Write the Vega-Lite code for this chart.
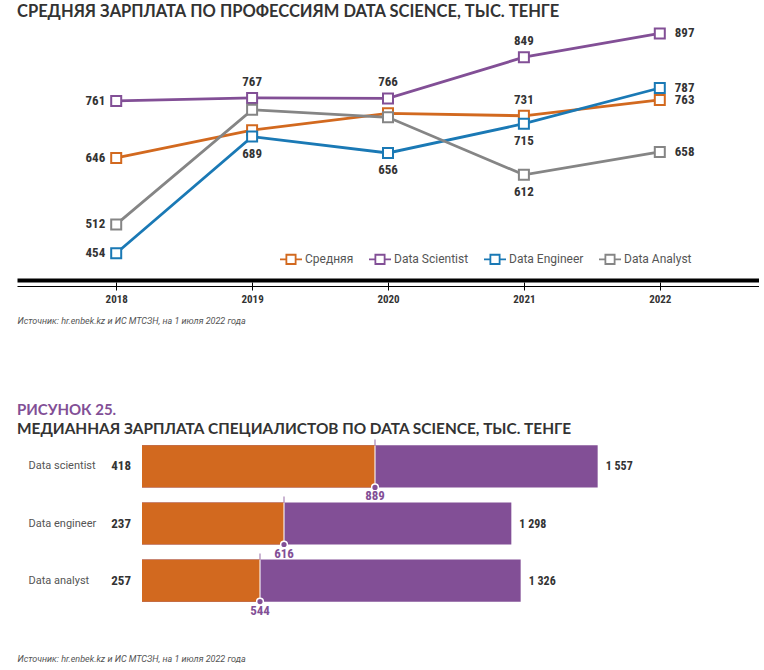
{
  "$schema": "https://vega.github.io/schema/vega-lite/v6.json",
  "padding": {"left": 17, "top": 3, "right": 0, "bottom": 0},
  "background": "white",
  "config": {
    "view": {"stroke": null},
    "locale": {"number": {"decimal": ",", "thousands": "\u00a0", "grouping": [3], "currency": ["", ""]}}
  },
  "datasets": {
    "lines": [
      {"year": 2018, "series": "Средняя", "value": 646},
      {"year": 2019, "series": "Средняя", "value": 702},
      {"year": 2020, "series": "Средняя", "value": 736},
      {"year": 2021, "series": "Средняя", "value": 731},
      {"year": 2022, "series": "Средняя", "value": 763},
      {"year": 2018, "series": "Data Scientist", "value": 761},
      {"year": 2019, "series": "Data Scientist", "value": 767},
      {"year": 2020, "series": "Data Scientist", "value": 766},
      {"year": 2021, "series": "Data Scientist", "value": 849},
      {"year": 2022, "series": "Data Scientist", "value": 897},
      {"year": 2018, "series": "Data Engineer", "value": 454},
      {"year": 2019, "series": "Data Engineer", "value": 689},
      {"year": 2020, "series": "Data Engineer", "value": 656},
      {"year": 2021, "series": "Data Engineer", "value": 715},
      {"year": 2022, "series": "Data Engineer", "value": 787},
      {"year": 2018, "series": "Data Analyst", "value": 512},
      {"year": 2019, "series": "Data Analyst", "value": 743},
      {"year": 2020, "series": "Data Analyst", "value": 728},
      {"year": 2021, "series": "Data Analyst", "value": 612},
      {"year": 2022, "series": "Data Analyst", "value": 658}
    ],
    "bars": [
      {"role": "Data scientist", "min": 418, "median": 889, "max": 1557},
      {"role": "Data engineer", "min": 237, "median": 616, "max": 1298},
      {"role": "Data analyst", "min": 257, "median": 544, "max": 1326}
    ]
  },
  "vconcat": [
    {
      "width": 742,
      "height": 258,
      "title": {
        "text": "СРЕДНЯЯ ЗАРПЛАТА ПО ПРОФЕССИЯМ DATA SCIENCE, ТЫС. ТЕНГЕ",
        "anchor": "start",
        "frame": "group",
        "font": "Lato",
        "fontSize": 16.5,
        "fontWeight": "bold",
        "color": "#333333",
        "offset": 2
      },
      "data": {"name": "lines"},
      "layer": [
        {
          "mark": {"type": "line", "strokeWidth": 2.8},
          "encoding": {
            "x": {"field": "year", "type": "ordinal", "scale": {"type": "point", "padding": 0.73},
                  "axis": {"orient": "bottom", "domainWidth": 4, "domainColor": "#000000", "ticks": false, "labels": false, "title": null, "grid": false}},
            "y": {"field": "value", "type": "quantitative", "scale": {"domain": [400, 920], "zero": false, "nice": false}, "axis": null},
            "color": {
              "field": "series", "type": "nominal",
              "scale": {"domain": ["Средняя", "Data Scientist", "Data Engineer", "Data Analyst"], "range": ["#D2691F", "#824F96", "#1A79B5", "#858585"]},
              "legend": {
                "orient": "none", "legendX": 262, "legendY": 225, "direction": "horizontal", "title": null,
                "symbolType": "M-1,0H-0.42M0.42,0H1M-0.42,-0.42H0.42V0.42H-0.42Z",
                "symbolSize": 484, "symbolStrokeWidth": 1.8, "symbolFillColor": "white",
                "labelFont": "Roboto", "labelFontSize": 12, "labelColor": "#555555",
                "columnPadding": 11, "labelOffset": 2
              }
            }
          }
        },
        {
          "mark": {"type": "point", "shape": "square", "filled": false, "fill": "white", "size": 100, "strokeWidth": 2, "opacity": 1},
          "encoding": {
            "x": {"field": "year", "type": "ordinal",
                  "axis": {"orient": "bottom", "offset": 6, "domainWidth": 1, "domainColor": "#000000", "ticks": false, "labels": false, "title": null, "grid": false}},
            "y": {"field": "value", "type": "quantitative"},
            "color": {"field": "series", "type": "nominal", "legend": null}
          }
        },
        {
          "transform": [{"filter": "datum.year == 2018"}],
          "mark": {"type": "text", "align": "right", "baseline": "middle", "dx": -11, "font": "Roboto Condensed, Noto Sans Condensed, DejaVu Sans Condensed, Liberation Sans Narrow, Roboto", "fontWeight": "bold", "fontSize": 13, "color": "#333333"},
          "encoding": {
            "x": {"field": "year", "type": "ordinal",
                  "axis": {"orient": "bottom", "offset": 2, "domain": false, "ticks": true, "tickSize": 8, "tickColor": "#000000", "tickWidth": 1,
                           "labelFont": "Roboto Condensed, Noto Sans Condensed, DejaVu Sans Condensed, Liberation Sans Narrow, Roboto", "labelFontSize": 11, "labelFontWeight": "bold", "labelColor": "#333333", "labelPadding": 3, "labelAngle": 0,
                           "title": "Источник: hr.enbek.kz и ИС МТСЗН, на 1 июля 2022 года",
                           "titleFont": "Roboto", "titleFontSize": 9, "titleFontStyle": "italic", "titleFontWeight": "normal", "titleColor": "#555555",
                           "titleAnchor": "start", "titleAlign": "left", "titlePadding": 12, "grid": false}},
            "y": {"field": "value", "type": "quantitative"},
            "text": {"field": "value", "type": "quantitative"}
          }
        },
        {
          "transform": [{"filter": "datum.year == 2022"}],
          "mark": {"type": "text", "align": "left", "baseline": "middle", "dx": 15, "font": "Roboto Condensed, Noto Sans Condensed, DejaVu Sans Condensed, Liberation Sans Narrow, Roboto", "fontWeight": "bold", "fontSize": 13, "color": "#333333"},
          "encoding": {
            "x": {"field": "year", "type": "ordinal", "axis": null},
            "y": {"field": "value", "type": "quantitative"},
            "text": {"field": "value", "type": "quantitative"}
          }
        },
        {
          "transform": [{"filter": "datum.year > 2018 && datum.year < 2022 && (datum.series == 'Data Scientist' || (datum.series == 'Средняя' && datum.year == 2021))"}],
          "mark": {"type": "text", "align": "center", "baseline": "middle", "dy": -16, "font": "Roboto Condensed, Noto Sans Condensed, DejaVu Sans Condensed, Liberation Sans Narrow, Roboto", "fontWeight": "bold", "fontSize": 13, "color": "#333333"},
          "encoding": {
            "x": {"field": "year", "type": "ordinal", "axis": null},
            "y": {"field": "value", "type": "quantitative"},
            "text": {"field": "value", "type": "quantitative"}
          }
        },
        {
          "transform": [{"filter": "datum.year > 2018 && datum.year < 2022 && (datum.series == 'Data Engineer' || (datum.series == 'Data Analyst' && datum.year == 2021))"}],
          "mark": {"type": "text", "align": "center", "baseline": "middle", "dy": 17, "font": "Roboto Condensed, Noto Sans Condensed, DejaVu Sans Condensed, Liberation Sans Narrow, Roboto", "fontWeight": "bold", "fontSize": 13, "color": "#333333"},
          "encoding": {
            "x": {"field": "year", "type": "ordinal", "axis": null},
            "y": {"field": "value", "type": "quantitative"},
            "text": {"field": "value", "type": "quantitative"}
          }
        }
      ],
      "resolve": {"axis": {"x": "independent"}}
    },
    {
      "width": 742,
      "height": 161,
      "title": {
        "text": "РИСУНОК 25.",
        "subtitle": "МЕДИАННАЯ ЗАРПЛАТА СПЕЦИАЛИСТОВ ПО DATA SCIENCE, ТЫС. ТЕНГЕ",
        "anchor": "start",
        "frame": "group",
        "font": "Lato",
        "fontSize": 15,
        "fontWeight": "bold",
        "color": "#824F96",
        "subtitleFont": "Lato",
        "subtitleFontSize": 15.4,
        "subtitleFontWeight": "bold",
        "subtitleColor": "#333333",
        "subtitlePadding": 4,
        "offset": 2
      },
      "data": {"name": "bars"},
      "encoding": {
        "y": {"field": "role", "type": "nominal", "sort": null,
              "scale": {"paddingInner": 0.26, "paddingOuter": 0.04},
              "axis": {"domain": false, "ticks": false, "labelAlign": "left", "labelPadding": -11,
                       "labelFont": "Roboto", "labelFontSize": 11, "labelColor": "#555555", "title": null}}
      },
      "layer": [
        {
          "mark": {"type": "tick", "orient": "vertical", "color": "#824F96", "size": 46, "thickness": 1.2, "yOffset": -4},
          "encoding": {
            "x": {"field": "median", "type": "quantitative", "scale": {"domain": [-185, 2041], "zero": false, "nice": false},
                  "axis": {"domain": false, "ticks": false, "labels": false, "grid": false,
                           "title": "Источник: hr.enbek.kz и ИС МТСЗН, на 1 июля 2022 года",
                           "titleFont": "Roboto", "titleFontSize": 9, "titleFontStyle": "italic", "titleFontWeight": "normal", "titleColor": "#555555",
                           "titleX": 0, "titleY": 54, "titleAlign": "left", "titleBaseline": "middle"}}
          }
        },
        {
          "mark": {"type": "bar", "color": "#824F96"},
          "encoding": {"x": {"field": "max", "type": "quantitative"}, "x2": {"datum": 190}}
        },
        {
          "mark": {"type": "bar", "color": "#D2691F"},
          "encoding": {"x": {"field": "median", "type": "quantitative"}, "x2": {"datum": 190}}
        },
        {
          "mark": {"type": "tick", "orient": "vertical", "color": "white", "size": 42, "thickness": 1.5},
          "encoding": {"x": {"field": "median", "type": "quantitative"}}
        },
        {
          "mark": {"type": "point", "shape": "circle", "filled": true, "color": "#824F96", "size": 45, "stroke": "white", "strokeWidth": 1.5, "opacity": 1, "yOffset": 21},
          "encoding": {"x": {"field": "median", "type": "quantitative"}}
        },
        {
          "mark": {"type": "text", "align": "center", "baseline": "middle", "dy": 30, "font": "Roboto Condensed, Noto Sans Condensed, DejaVu Sans Condensed, Liberation Sans Narrow, Roboto", "fontWeight": "bold", "fontSize": 13, "color": "#824F96"},
          "encoding": {"x": {"field": "median", "type": "quantitative"}, "text": {"field": "median", "type": "quantitative"}}
        },
        {
          "mark": {"type": "text", "align": "left", "baseline": "middle", "dx": 8, "font": "Roboto Condensed, Noto Sans Condensed, DejaVu Sans Condensed, Liberation Sans Narrow, Roboto", "fontWeight": "bold", "fontSize": 12, "color": "#333333"},
          "encoding": {"x": {"field": "max", "type": "quantitative"}, "text": {"field": "max", "type": "quantitative", "format": ",d"}}
        },
        {
          "mark": {"type": "text", "align": "right", "baseline": "middle", "dx": -11, "font": "Roboto Condensed, Noto Sans Condensed, DejaVu Sans Condensed, Liberation Sans Narrow, Roboto", "fontWeight": "bold", "fontSize": 13, "color": "#333333"},
          "encoding": {"x": {"datum": 190, "type": "quantitative"}, "text": {"field": "min", "type": "quantitative"}}
        }
      ]
    }
  ],
  "spacing": 78
}
